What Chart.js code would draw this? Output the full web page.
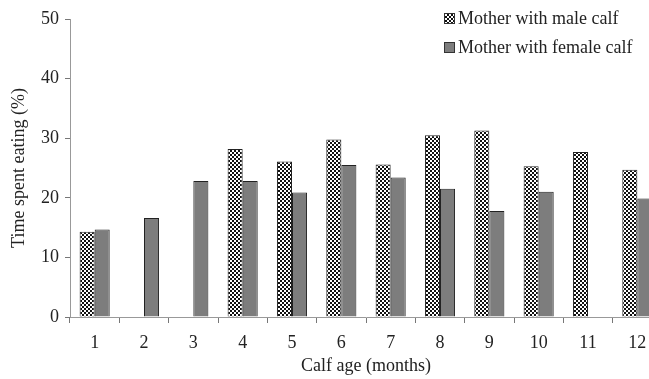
<!DOCTYPE html>
<html>
<head>
<meta charset="utf-8">
<script src="https://cdn.jsdelivr.net/npm/chart.js@4/dist/chart.umd.min.js"></script>
<style>
  html, body { margin: 0; padding: 0; background: #fff; overflow: hidden; width: 649px; height: 379px; }
  #wrap { position: relative; width: 662px; height: 379px; }
  #legend { position: absolute; left: 444px; top: 6px; font-family: "Liberation Serif", "Times New Roman", serif; font-size: 18px; color: #222; }
  .row { display: flex; align-items: center; height: 24px; margin-bottom: 5px; }
  .sw { width: 9px; height: 9px; border: 1px solid #333; margin-right: 3px; }
  .male { background-color: #fff; background-image: repeating-conic-gradient(#111 0 25%, #fff 0 50%); background-size: 4px 4px; }
  .female { background: #7d7d7d; }
</style>
</head>
<body>
<div id="wrap">
  <canvas id="c" width="662" height="379"></canvas>
  <div id="legend">
    <div class="row"><span class="sw male"></span><span id="l0"></span></div>
    <div class="row"><span class="sw female"></span><span id="l1"></span></div>
  </div>
</div>
<script>
const categories = ["1","2","3","4","5","6","7","8","9","10","11","12"];
const maleValues = [14.3, null, null, 28.2, 26.1, 29.8, 25.6, 30.5, 31.3, 25.3, 27.7, 24.7];
const femaleValues = [14.7, 16.6, 22.8, 22.8, 20.9, 25.5, 23.4, 21.5, 17.8, 21.0, null, 19.9];
const seriesNames = ["Mother with male calf", "Mother with female calf"];
const yTicks = [0, 10, 20, 30, 40, 50];
const xTitle = "Calf age (months)";
const yTitle = "Time spent eating (%)";

document.getElementById('l0').textContent = seriesNames[0];
document.getElementById('l1').textContent = seriesNames[1];

function makePattern() {
  const p = document.createElement('canvas');
  p.width = 4; p.height = 4;
  const g = p.getContext('2d');
  g.fillStyle = '#ffffff'; g.fillRect(0, 0, 4, 4);
  g.fillStyle = '#111111';
  g.fillRect(0, 0, 2, 2);
  g.fillRect(2, 2, 2, 2);
  return document.getElementById('c').getContext('2d').createPattern(p, 'repeat');
}

const font = { family: "'Liberation Serif', 'Times New Roman', serif", size: 18 };

new Chart(document.getElementById('c'), {
  type: 'bar',
  data: {
    labels: categories,
    datasets: [
      { label: seriesNames[0], data: maleValues, backgroundColor: makePattern(), borderColor: '#222', borderWidth: 1, borderSkipped: 'bottom' },
      { label: seriesNames[1], data: femaleValues, backgroundColor: '#7d7d7d', borderColor: '#222', borderWidth: 1, borderSkipped: 'bottom' }
    ]
  },
  options: {
    responsive: false,
    animation: false,
    devicePixelRatio: 1,
    layout: { padding: { top: 19, right: 0, left: 0, bottom: 0 } },
    datasets: { bar: { categoryPercentage: 0.61, barPercentage: 1.0 } },
    plugins: { legend: { display: false }, tooltip: { enabled: false } },
    scales: {
      x: {
        offset: true,
        grid: { display: true, drawOnChartArea: false, drawTicks: true, tickLength: 6, offset: true, color: '#777' },
        border: { display: true, color: '#999', width: 1 },
        ticks: { font: font, color: '#222', padding: 9, maxRotation: 0, autoSkip: false },
        title: { display: true, text: xTitle, font: font, color: '#222', padding: { top: 0, bottom: 2 } },
        afterFit: s => { s.height = 62; }
      },
      y: {
        min: 0, max: 50,
        afterBuildTicks: s => { s.ticks = yTicks.map(v => ({ value: v })); },
        grid: { display: true, drawOnChartArea: false, drawTicks: true, tickLength: 5, color: '#777' },
        border: { display: true, color: '#999', width: 1 },
        ticks: { font: font, color: '#222', padding: 6 },
        title: { display: true, text: yTitle, font: font, color: '#222', padding: { top: 8, bottom: 0 } },
        afterFit: s => { s.width = 70; }
      }
    }
  }
});
</script>
</body>
</html>
